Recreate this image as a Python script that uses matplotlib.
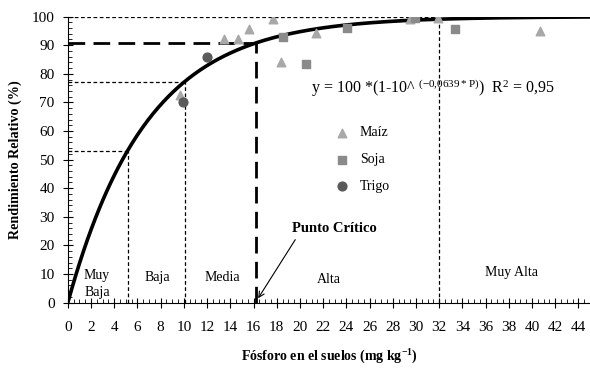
import numpy as np
import matplotlib.pyplot as plt
from matplotlib.ticker import MultipleLocator

plt.rcParams['font.family'] = ['Liberation Serif', 'DejaVu Serif']
plt.rcParams['mathtext.fontset'] = 'custom'
plt.rcParams['mathtext.rm'] = 'Liberation Serif'
plt.rcParams['mathtext.it'] = 'Liberation Serif:italic'
plt.rcParams['mathtext.bf'] = 'Liberation Serif:bold'

# observed relative yields (P in mg/kg, yield in %)
maiz_p = [9.7, 13.5, 14.7, 15.6, 17.7, 18.4, 21.4, 29.5, 31.9, 40.7]
maiz_y = [72.7, 92.0, 92.0, 95.5, 99.0, 84.0, 94.4, 99.0, 99.6, 94.8]
soja_p = [18.5, 20.5, 24.1, 29.9, 33.4]
soja_y = [93.0, 83.5, 96.0, 99.6, 95.8]
trigo_p = [9.9, 12.0]
trigo_y = [70.3, 86.0]

# fitted Mitscherlich curve
coef = 0.0639
p_crit = 16.2

# class limits: (P, yield)
limits_p = [5.2, 10.1]
limits_y = [53, 77]
very_high_p = 32

classes = ['Muy\nBaja', 'Baja', 'Media', 'Alta', 'Muy Alta']
class_x = [2.5, 7.7, 13.3, 22.5, 38.2]
class_y = [6.5, 8.7, 8.7, 8, 10.5]

fig, ax = plt.subplots(figsize=(5.9, 3.69), dpi=100)
fig.subplots_adjust(left=0.115, right=1.0, top=0.955, bottom=0.18)

p = np.linspace(0, 45, 400)
ax.plot(p, 100 * (1 - 10 ** (-coef * p)), color='black', lw=2.6, zorder=3)

ax.scatter(maiz_p, maiz_y, marker='^', s=38, color='#a8a8a8', label='Maíz', zorder=4)
ax.scatter(soja_p, soja_y, marker='s', s=36, color='#8a8a8a', label='Soja', zorder=4)
ax.scatter(trigo_p, trigo_y, marker='o', s=40, color='#5a5a5a', label='Trigo', zorder=4)

# thin dashed guides for the class limits
for xp, yp in zip(limits_p, limits_y):
    ax.plot([xp, xp], [0, yp], ls=(0, (3, 2)), color='black', lw=0.9)
    ax.plot([0, xp], [yp, yp], ls=(0, (3, 2)), color='black', lw=0.9)
ax.plot([very_high_p, very_high_p], [0, 100], ls=(0, (3, 2)), color='black', lw=0.9)
ax.plot([0, very_high_p], [100, 100], ls=(0, (3, 2)), color='black', lw=0.9)

# critical point
y_crit = 100 * (1 - 10 ** (-coef * p_crit))
ax.plot([p_crit, p_crit], [0, y_crit], ls=(0, (6, 3)), color='black', lw=2)
ax.plot([0, p_crit], [y_crit, y_crit], ls=(0, (6, 3)), color='black', lw=2)
ax.annotate('', xy=(p_crit + 0.2, 1.5), xytext=(19.6, 22),
            arrowprops=dict(arrowstyle='->', color='black', lw=0.8,
                            shrinkA=0, shrinkB=0))
ax.text(23.0, 26, 'Punto Crítico', ha='center', va='center', fontsize=10.5,
        fontweight='bold')

for name, xc, yc in zip(classes, class_x, class_y):
    ax.text(xc, yc, name, ha='center', va='center', fontsize=10, linespacing=1.4)

ax.text(31.5, 75, r'y = 100 *(1-10^ $^{\mathrm{(-0{,}0639*P)}}$)  R$^{\mathrm{2}}$ = 0,95',
        ha='center', va='center', fontsize=11.5)

leg = ax.legend(loc='upper left', bbox_to_anchor=(0.485, 0.66), frameon=False,
                fontsize=10, handletextpad=0.7, labelspacing=1.0, handlelength=1.2)

ax.set_xlim(0, 45)
ax.set_ylim(0, 100)
ax.xaxis.set_major_locator(MultipleLocator(2))
ax.xaxis.set_minor_locator(MultipleLocator(0.5))
ax.yaxis.set_major_locator(MultipleLocator(10))
ax.yaxis.set_minor_locator(MultipleLocator(2))
ax.tick_params(axis='x', which='major', direction='inout', length=7, width=0.8, labelsize=11, pad=10)
ax.tick_params(axis='x', which='minor', direction='in', length=3, width=0.6)
ax.tick_params(axis='y', which='major', direction='inout', length=7, width=0.8, labelsize=11, pad=6)
ax.tick_params(axis='y', which='minor', direction='in', length=3, width=0.6)
for s in ['top', 'right']:
    ax.spines[s].set_visible(False)

ax.set_xlabel('Fósforo en el suelos (mg kg$^{\\mathbf{-1}}$)', fontsize=10,
              fontweight='bold', labelpad=10)
ax.set_ylabel('Rendimiento Relativo (%)', fontsize=10.2, fontweight='bold', labelpad=7)

fig.savefig('out.png')
